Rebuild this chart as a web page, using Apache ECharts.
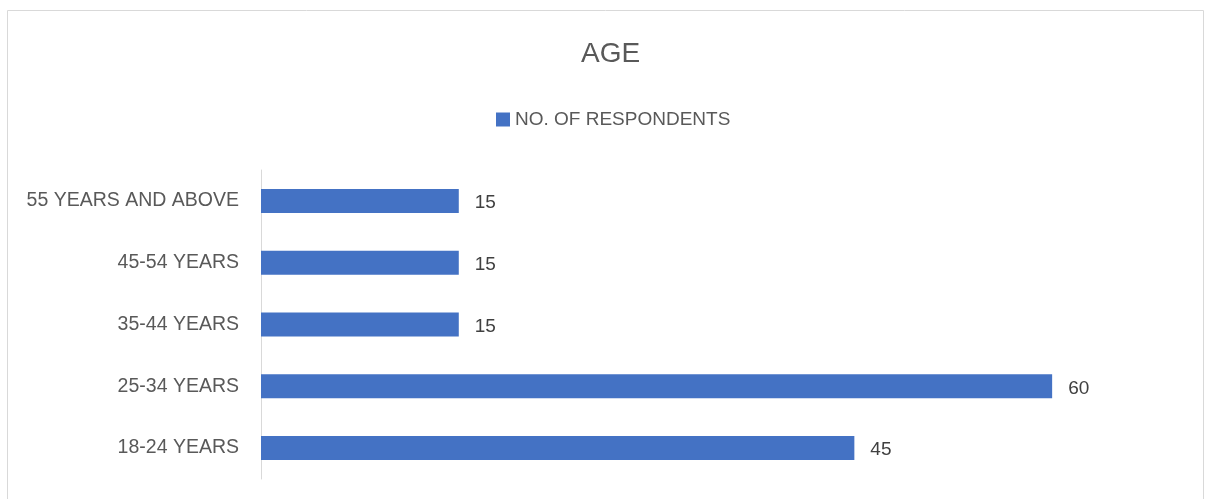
<!DOCTYPE html>
<html>
<head>
<meta charset="utf-8">
<script src="https://cdn.jsdelivr.net/npm/echarts@6/dist/echarts.min.js"></script>
<style>
  html, body { margin: 0; padding: 0; background: #fff; }
  #main { width: 1205px; height: 499px; }
</style>
</head>
<body>
<div id="main"></div>
<script>
var ageGroups = ['18-24 YEARS', '25-34 YEARS', '35-44 YEARS', '45-54 YEARS', '55 YEARS AND ABOVE'];
var respondents = [45, 60, 15, 15, 15];

var labelFont = 'Liberation Sans, Arial, sans-serif';
var myChart = echarts.init(document.getElementById('main'));

myChart.setOption({
  animation: false,
  graphic: [{
    type: 'rect',
    shape: { x: 7.5, y: 10.5, width: 1196, height: 500 },
    style: { fill: 'none', stroke: '#d9d9d9', lineWidth: 1 },
    silent: true
  }],
  title: {
    text: 'AGE',
    left: 576,
    top: 35,
    textStyle: { color: '#595959', fontSize: 28, fontWeight: 'normal', fontFamily: labelFont }
  },
  legend: {
    top: 105,
    left: 491,
    itemWidth: 14,
    itemHeight: 14,
    itemGap: 6,
    icon: 'rect',
    textStyle: { color: '#595959', fontSize: 19, fontFamily: labelFont },
    data: ['NO. OF RESPONDENTS']
  },
  grid: { left: 261, right: 21, top: 170, bottom: 20, containLabel: false },
  xAxis: {
    type: 'value',
    min: 0,
    max: 70,
    show: false
  },
  yAxis: {
    type: 'category',
    data: ageGroups,
    axisLine: { show: true, lineStyle: { color: '#d9d9d9', width: 1 } },
    axisTick: { show: false },
    axisLabel: { color: '#595959', fontSize: 19.5, fontFamily: labelFont, margin: 22, padding: [4, 0, 0, 0] }
  },
  series: [{
    name: 'NO. OF RESPONDENTS',
    type: 'bar',
    data: respondents,
    barWidth: 24,
    itemStyle: { color: '#4472c4' },
    label: {
      show: true,
      position: 'right',
      distance: 16,
      offset: [0, 2],
      color: '#404040',
      fontSize: 19,
      fontFamily: labelFont
    }
  }]
});
</script>
</body>
</html>
